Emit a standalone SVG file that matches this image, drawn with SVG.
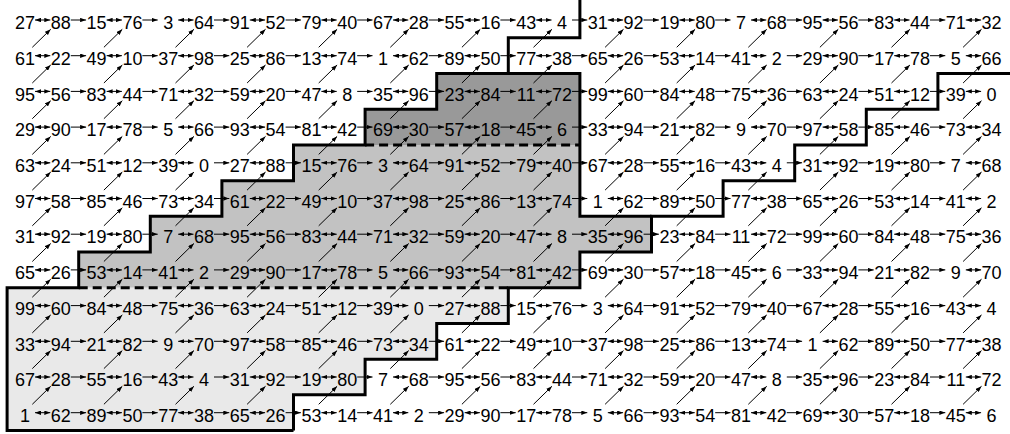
<svg xmlns="http://www.w3.org/2000/svg" width="1010" height="434" viewBox="0 0 1010 434">
<defs>
<marker id="ah" viewBox="0 0 6 4.4" refX="6" refY="2.2" markerWidth="6" markerHeight="4.4" markerUnits="userSpaceOnUse" orient="auto-start-reverse"><path d="M0 0L6 2.2L0 4.4z" fill="#000"/></marker>
</defs>
<style>
text{font-family:"Liberation Sans",Arial,Helvetica,sans-serif;font-size:18px;fill:#000;text-anchor:middle}
.b{fill:none;stroke:#000;stroke-width:1;marker-start:url(#ah);marker-end:url(#ah)}
.s,.d{fill:none;stroke:#000;stroke-width:1;marker-end:url(#ah)}
.thick{fill:none;stroke:#000;stroke-width:3}
.dash{fill:none;stroke:#000;stroke-width:3;stroke-dasharray:9 5}
</style>
<rect width="1010" height="434" fill="#fff"/>
<g id="regions">
<path id="dark" fill="#999999" d="M436.7 73.55H579.9V144.95H365.1V109.25H436.7Z"/>
<path id="medium" fill="#c2c2c2" d="M293.5 144.95H579.9V216.35H651.5V252.05H579.9V287.75H78.7V252.05H150.3V216.35H221.9V180.65H293.5Z"/>
<path id="light" fill="#e9e9e9" d="M7.1 287.75H508.3V323.45H436.7V359.15H365.1V394.85H293.5V430.55H7.1Z"/>
</g>
<g id="boundaries">
<path class="thick" d="M579.9 0V37.85H508.3V73.55H436.7V109.25H365.1V144.95H293.5V180.65H221.9V216.35H150.3V252.05H78.7V287.75H7.1V430.55H293.5"/>
<path class="thick" d="M1010 73.55H937.9V109.25H866.3V144.95H794.7V180.65H723.1V216.35H651.5V252.05H579.9V287.75H508.3V323.45H436.7V359.15H365.1V394.85H293.5V430.55"/>
<path class="thick" d="M508.3 73.55H579.9V216.35H651.5"/>
<path class="dash" d="M365.1 144.95H579.9"/>
<path class="dash" d="M78.7 287.75H508.3"/>
</g>
<g id="connectors">
<g transform="translate(0,20)">
<path class="b" d="M35 0H50.3"/><path class="s" d="M70.8 0H86.1"/><path class="b" d="M106.6 0H121.9"/><path class="s" d="M142.4 0H157.7"/><path class="b" d="M178.2 0H193.5"/><path class="s" d="M214 0H229.3"/><path class="b" d="M249.8 0H265.1"/><path class="s" d="M285.6 0H300.9"/><path class="b" d="M321.4 0H336.7"/><path class="s" d="M357.2 0H372.5"/><path class="b" d="M393 0H408.3"/><path class="s" d="M428.8 0H444.1"/><path class="b" d="M464.6 0H479.9"/><path class="s" d="M500.4 0H515.7"/><path class="b" d="M536.2 0H551.5"/><path class="s" d="M572 0H587.3"/><path class="b" d="M607.8 0H623.1"/><path class="s" d="M643.6 0H658.9"/><path class="b" d="M679.4 0H694.7"/><path class="s" d="M715.2 0H730.5"/><path class="b" d="M751 0H766.3"/><path class="s" d="M786.8 0H802.1"/><path class="b" d="M822.6 0H837.9"/><path class="s" d="M858.4 0H873.7"/><path class="b" d="M894.2 0H909.5"/><path class="s" d="M930 0H945.3"/><path class="b" d="M965.8 0H981.1"/>
<path class="d" d="M32.3 27.3l18.4-18"/><path class="d" d="M103.9 27.3l18.4-18"/><path class="d" d="M175.5 27.3l18.4-18"/><path class="d" d="M247.1 27.3l18.4-18"/><path class="d" d="M318.7 27.3l18.4-18"/><path class="d" d="M390.3 27.3l18.4-18"/><path class="d" d="M461.9 27.3l18.4-18"/><path class="d" d="M533.5 27.3l18.4-18"/><path class="d" d="M605.1 27.3l18.4-18"/><path class="d" d="M676.7 27.3l18.4-18"/><path class="d" d="M748.3 27.3l18.4-18"/><path class="d" d="M819.9 27.3l18.4-18"/><path class="d" d="M891.5 27.3l18.4-18"/><path class="d" d="M963.1 27.3l18.4-18"/>
</g>
<g transform="translate(0,55.7)">
<path class="b" d="M35 0H50.3"/><path class="s" d="M70.8 0H86.1"/><path class="b" d="M106.6 0H121.9"/><path class="s" d="M142.4 0H157.7"/><path class="b" d="M178.2 0H193.5"/><path class="s" d="M214 0H229.3"/><path class="b" d="M249.8 0H265.1"/><path class="s" d="M285.6 0H300.9"/><path class="b" d="M321.4 0H336.7"/><path class="s" d="M357.2 0H372.5"/><path class="b" d="M393 0H408.3"/><path class="s" d="M428.8 0H444.1"/><path class="b" d="M464.6 0H479.9"/><path class="s" d="M500.4 0H515.7"/><path class="b" d="M536.2 0H551.5"/><path class="s" d="M572 0H587.3"/><path class="b" d="M607.8 0H623.1"/><path class="s" d="M643.6 0H658.9"/><path class="b" d="M679.4 0H694.7"/><path class="s" d="M715.2 0H730.5"/><path class="b" d="M751 0H766.3"/><path class="s" d="M786.8 0H802.1"/><path class="b" d="M822.6 0H837.9"/><path class="s" d="M858.4 0H873.7"/><path class="b" d="M894.2 0H909.5"/><path class="s" d="M930 0H945.3"/><path class="b" d="M965.8 0H981.1"/>
<path class="d" d="M32.3 27.3l18.4-18"/><path class="d" d="M103.9 27.3l18.4-18"/><path class="d" d="M175.5 27.3l18.4-18"/><path class="d" d="M247.1 27.3l18.4-18"/><path class="d" d="M318.7 27.3l18.4-18"/><path class="d" d="M390.3 27.3l18.4-18"/><path class="d" d="M461.9 27.3l18.4-18"/><path class="d" d="M533.5 27.3l18.4-18"/><path class="d" d="M605.1 27.3l18.4-18"/><path class="d" d="M676.7 27.3l18.4-18"/><path class="d" d="M748.3 27.3l18.4-18"/><path class="d" d="M819.9 27.3l18.4-18"/><path class="d" d="M891.5 27.3l18.4-18"/><path class="d" d="M963.1 27.3l18.4-18"/>
</g>
<g transform="translate(0,91.4)">
<path class="b" d="M35 0H50.3"/><path class="s" d="M70.8 0H86.1"/><path class="b" d="M106.6 0H121.9"/><path class="s" d="M142.4 0H157.7"/><path class="b" d="M178.2 0H193.5"/><path class="s" d="M214 0H229.3"/><path class="b" d="M249.8 0H265.1"/><path class="s" d="M285.6 0H300.9"/><path class="b" d="M321.4 0H336.7"/><path class="s" d="M357.2 0H372.5"/><path class="b" d="M393 0H408.3"/><path class="s" d="M428.8 0H444.1"/><path class="b" d="M464.6 0H479.9"/><path class="s" d="M500.4 0H515.7"/><path class="b" d="M536.2 0H551.5"/><path class="s" d="M572 0H587.3"/><path class="b" d="M607.8 0H623.1"/><path class="s" d="M643.6 0H658.9"/><path class="b" d="M679.4 0H694.7"/><path class="s" d="M715.2 0H730.5"/><path class="b" d="M751 0H766.3"/><path class="s" d="M786.8 0H802.1"/><path class="b" d="M822.6 0H837.9"/><path class="s" d="M858.4 0H873.7"/><path class="b" d="M894.2 0H909.5"/><path class="s" d="M930 0H945.3"/><path class="b" d="M965.8 0H981.1"/>
<path class="d" d="M32.3 27.3l18.4-18"/><path class="d" d="M103.9 27.3l18.4-18"/><path class="d" d="M175.5 27.3l18.4-18"/><path class="d" d="M247.1 27.3l18.4-18"/><path class="d" d="M318.7 27.3l18.4-18"/><path class="d" d="M390.3 27.3l18.4-18"/><path class="d" d="M461.9 27.3l18.4-18"/><path class="d" d="M533.5 27.3l18.4-18"/><path class="d" d="M605.1 27.3l18.4-18"/><path class="d" d="M676.7 27.3l18.4-18"/><path class="d" d="M748.3 27.3l18.4-18"/><path class="d" d="M819.9 27.3l18.4-18"/><path class="d" d="M891.5 27.3l18.4-18"/><path class="d" d="M963.1 27.3l18.4-18"/>
</g>
<g transform="translate(0,127.1)">
<path class="b" d="M35 0H50.3"/><path class="s" d="M70.8 0H86.1"/><path class="b" d="M106.6 0H121.9"/><path class="s" d="M142.4 0H157.7"/><path class="b" d="M178.2 0H193.5"/><path class="s" d="M214 0H229.3"/><path class="b" d="M249.8 0H265.1"/><path class="s" d="M285.6 0H300.9"/><path class="b" d="M321.4 0H336.7"/><path class="s" d="M357.2 0H372.5"/><path class="b" d="M393 0H408.3"/><path class="s" d="M428.8 0H444.1"/><path class="b" d="M464.6 0H479.9"/><path class="s" d="M500.4 0H515.7"/><path class="b" d="M536.2 0H551.5"/><path class="s" d="M572 0H587.3"/><path class="b" d="M607.8 0H623.1"/><path class="s" d="M643.6 0H658.9"/><path class="b" d="M679.4 0H694.7"/><path class="s" d="M715.2 0H730.5"/><path class="b" d="M751 0H766.3"/><path class="s" d="M786.8 0H802.1"/><path class="b" d="M822.6 0H837.9"/><path class="s" d="M858.4 0H873.7"/><path class="b" d="M894.2 0H909.5"/><path class="s" d="M930 0H945.3"/><path class="b" d="M965.8 0H981.1"/>
<path class="d" d="M32.3 27.3l18.4-18"/><path class="d" d="M103.9 27.3l18.4-18"/><path class="d" d="M175.5 27.3l18.4-18"/><path class="d" d="M247.1 27.3l18.4-18"/><path class="d" d="M318.7 27.3l18.4-18"/><path class="d" d="M390.3 27.3l18.4-18"/><path class="d" d="M461.9 27.3l18.4-18"/><path class="d" d="M533.5 27.3l18.4-18"/><path class="d" d="M605.1 27.3l18.4-18"/><path class="d" d="M676.7 27.3l18.4-18"/><path class="d" d="M748.3 27.3l18.4-18"/><path class="d" d="M819.9 27.3l18.4-18"/><path class="d" d="M891.5 27.3l18.4-18"/><path class="d" d="M963.1 27.3l18.4-18"/>
</g>
<g transform="translate(0,162.8)">
<path class="b" d="M35 0H50.3"/><path class="s" d="M70.8 0H86.1"/><path class="b" d="M106.6 0H121.9"/><path class="s" d="M142.4 0H157.7"/><path class="b" d="M178.2 0H193.5"/><path class="s" d="M214 0H229.3"/><path class="b" d="M249.8 0H265.1"/><path class="s" d="M285.6 0H300.9"/><path class="b" d="M321.4 0H336.7"/><path class="s" d="M357.2 0H372.5"/><path class="b" d="M393 0H408.3"/><path class="s" d="M428.8 0H444.1"/><path class="b" d="M464.6 0H479.9"/><path class="s" d="M500.4 0H515.7"/><path class="b" d="M536.2 0H551.5"/><path class="s" d="M572 0H587.3"/><path class="b" d="M607.8 0H623.1"/><path class="s" d="M643.6 0H658.9"/><path class="b" d="M679.4 0H694.7"/><path class="s" d="M715.2 0H730.5"/><path class="b" d="M751 0H766.3"/><path class="s" d="M786.8 0H802.1"/><path class="b" d="M822.6 0H837.9"/><path class="s" d="M858.4 0H873.7"/><path class="b" d="M894.2 0H909.5"/><path class="s" d="M930 0H945.3"/><path class="b" d="M965.8 0H981.1"/>
<path class="d" d="M32.3 27.3l18.4-18"/><path class="d" d="M103.9 27.3l18.4-18"/><path class="d" d="M175.5 27.3l18.4-18"/><path class="d" d="M247.1 27.3l18.4-18"/><path class="d" d="M318.7 27.3l18.4-18"/><path class="d" d="M390.3 27.3l18.4-18"/><path class="d" d="M461.9 27.3l18.4-18"/><path class="d" d="M533.5 27.3l18.4-18"/><path class="d" d="M605.1 27.3l18.4-18"/><path class="d" d="M676.7 27.3l18.4-18"/><path class="d" d="M748.3 27.3l18.4-18"/><path class="d" d="M819.9 27.3l18.4-18"/><path class="d" d="M891.5 27.3l18.4-18"/><path class="d" d="M963.1 27.3l18.4-18"/>
</g>
<g transform="translate(0,198.5)">
<path class="b" d="M35 0H50.3"/><path class="s" d="M70.8 0H86.1"/><path class="b" d="M106.6 0H121.9"/><path class="s" d="M142.4 0H157.7"/><path class="b" d="M178.2 0H193.5"/><path class="s" d="M214 0H229.3"/><path class="b" d="M249.8 0H265.1"/><path class="s" d="M285.6 0H300.9"/><path class="b" d="M321.4 0H336.7"/><path class="s" d="M357.2 0H372.5"/><path class="b" d="M393 0H408.3"/><path class="s" d="M428.8 0H444.1"/><path class="b" d="M464.6 0H479.9"/><path class="s" d="M500.4 0H515.7"/><path class="b" d="M536.2 0H551.5"/><path class="s" d="M572 0H587.3"/><path class="b" d="M607.8 0H623.1"/><path class="s" d="M643.6 0H658.9"/><path class="b" d="M679.4 0H694.7"/><path class="s" d="M715.2 0H730.5"/><path class="b" d="M751 0H766.3"/><path class="s" d="M786.8 0H802.1"/><path class="b" d="M822.6 0H837.9"/><path class="s" d="M858.4 0H873.7"/><path class="b" d="M894.2 0H909.5"/><path class="s" d="M930 0H945.3"/><path class="b" d="M965.8 0H981.1"/>
<path class="d" d="M32.3 27.3l18.4-18"/><path class="d" d="M103.9 27.3l18.4-18"/><path class="d" d="M175.5 27.3l18.4-18"/><path class="d" d="M247.1 27.3l18.4-18"/><path class="d" d="M318.7 27.3l18.4-18"/><path class="d" d="M390.3 27.3l18.4-18"/><path class="d" d="M461.9 27.3l18.4-18"/><path class="d" d="M533.5 27.3l18.4-18"/><path class="d" d="M605.1 27.3l18.4-18"/><path class="d" d="M676.7 27.3l18.4-18"/><path class="d" d="M748.3 27.3l18.4-18"/><path class="d" d="M819.9 27.3l18.4-18"/><path class="d" d="M891.5 27.3l18.4-18"/><path class="d" d="M963.1 27.3l18.4-18"/>
</g>
<g transform="translate(0,234.2)">
<path class="b" d="M35 0H50.3"/><path class="s" d="M70.8 0H86.1"/><path class="b" d="M106.6 0H121.9"/><path class="s" d="M142.4 0H157.7"/><path class="b" d="M178.2 0H193.5"/><path class="s" d="M214 0H229.3"/><path class="b" d="M249.8 0H265.1"/><path class="s" d="M285.6 0H300.9"/><path class="b" d="M321.4 0H336.7"/><path class="s" d="M357.2 0H372.5"/><path class="b" d="M393 0H408.3"/><path class="s" d="M428.8 0H444.1"/><path class="b" d="M464.6 0H479.9"/><path class="s" d="M500.4 0H515.7"/><path class="b" d="M536.2 0H551.5"/><path class="s" d="M572 0H587.3"/><path class="b" d="M607.8 0H623.1"/><path class="s" d="M643.6 0H658.9"/><path class="b" d="M679.4 0H694.7"/><path class="s" d="M715.2 0H730.5"/><path class="b" d="M751 0H766.3"/><path class="s" d="M786.8 0H802.1"/><path class="b" d="M822.6 0H837.9"/><path class="s" d="M858.4 0H873.7"/><path class="b" d="M894.2 0H909.5"/><path class="s" d="M930 0H945.3"/><path class="b" d="M965.8 0H981.1"/>
<path class="d" d="M32.3 27.3l18.4-18"/><path class="d" d="M103.9 27.3l18.4-18"/><path class="d" d="M175.5 27.3l18.4-18"/><path class="d" d="M247.1 27.3l18.4-18"/><path class="d" d="M318.7 27.3l18.4-18"/><path class="d" d="M390.3 27.3l18.4-18"/><path class="d" d="M461.9 27.3l18.4-18"/><path class="d" d="M533.5 27.3l18.4-18"/><path class="d" d="M605.1 27.3l18.4-18"/><path class="d" d="M676.7 27.3l18.4-18"/><path class="d" d="M748.3 27.3l18.4-18"/><path class="d" d="M819.9 27.3l18.4-18"/><path class="d" d="M891.5 27.3l18.4-18"/><path class="d" d="M963.1 27.3l18.4-18"/>
</g>
<g transform="translate(0,269.9)">
<path class="b" d="M35 0H50.3"/><path class="s" d="M70.8 0H86.1"/><path class="b" d="M106.6 0H121.9"/><path class="s" d="M142.4 0H157.7"/><path class="b" d="M178.2 0H193.5"/><path class="s" d="M214 0H229.3"/><path class="b" d="M249.8 0H265.1"/><path class="s" d="M285.6 0H300.9"/><path class="b" d="M321.4 0H336.7"/><path class="s" d="M357.2 0H372.5"/><path class="b" d="M393 0H408.3"/><path class="s" d="M428.8 0H444.1"/><path class="b" d="M464.6 0H479.9"/><path class="s" d="M500.4 0H515.7"/><path class="b" d="M536.2 0H551.5"/><path class="s" d="M572 0H587.3"/><path class="b" d="M607.8 0H623.1"/><path class="s" d="M643.6 0H658.9"/><path class="b" d="M679.4 0H694.7"/><path class="s" d="M715.2 0H730.5"/><path class="b" d="M751 0H766.3"/><path class="s" d="M786.8 0H802.1"/><path class="b" d="M822.6 0H837.9"/><path class="s" d="M858.4 0H873.7"/><path class="b" d="M894.2 0H909.5"/><path class="s" d="M930 0H945.3"/><path class="b" d="M965.8 0H981.1"/>
<path class="d" d="M32.3 27.3l18.4-18"/><path class="d" d="M103.9 27.3l18.4-18"/><path class="d" d="M175.5 27.3l18.4-18"/><path class="d" d="M247.1 27.3l18.4-18"/><path class="d" d="M318.7 27.3l18.4-18"/><path class="d" d="M390.3 27.3l18.4-18"/><path class="d" d="M461.9 27.3l18.4-18"/><path class="d" d="M533.5 27.3l18.4-18"/><path class="d" d="M605.1 27.3l18.4-18"/><path class="d" d="M676.7 27.3l18.4-18"/><path class="d" d="M748.3 27.3l18.4-18"/><path class="d" d="M819.9 27.3l18.4-18"/><path class="d" d="M891.5 27.3l18.4-18"/><path class="d" d="M963.1 27.3l18.4-18"/>
</g>
<g transform="translate(0,305.6)">
<path class="b" d="M35 0H50.3"/><path class="s" d="M70.8 0H86.1"/><path class="b" d="M106.6 0H121.9"/><path class="s" d="M142.4 0H157.7"/><path class="b" d="M178.2 0H193.5"/><path class="s" d="M214 0H229.3"/><path class="b" d="M249.8 0H265.1"/><path class="s" d="M285.6 0H300.9"/><path class="b" d="M321.4 0H336.7"/><path class="s" d="M357.2 0H372.5"/><path class="b" d="M393 0H408.3"/><path class="s" d="M428.8 0H444.1"/><path class="b" d="M464.6 0H479.9"/><path class="s" d="M500.4 0H515.7"/><path class="b" d="M536.2 0H551.5"/><path class="s" d="M572 0H587.3"/><path class="b" d="M607.8 0H623.1"/><path class="s" d="M643.6 0H658.9"/><path class="b" d="M679.4 0H694.7"/><path class="s" d="M715.2 0H730.5"/><path class="b" d="M751 0H766.3"/><path class="s" d="M786.8 0H802.1"/><path class="b" d="M822.6 0H837.9"/><path class="s" d="M858.4 0H873.7"/><path class="b" d="M894.2 0H909.5"/><path class="s" d="M930 0H945.3"/><path class="b" d="M965.8 0H981.1"/>
<path class="d" d="M32.3 27.3l18.4-18"/><path class="d" d="M103.9 27.3l18.4-18"/><path class="d" d="M175.5 27.3l18.4-18"/><path class="d" d="M247.1 27.3l18.4-18"/><path class="d" d="M318.7 27.3l18.4-18"/><path class="d" d="M390.3 27.3l18.4-18"/><path class="d" d="M461.9 27.3l18.4-18"/><path class="d" d="M533.5 27.3l18.4-18"/><path class="d" d="M605.1 27.3l18.4-18"/><path class="d" d="M676.7 27.3l18.4-18"/><path class="d" d="M748.3 27.3l18.4-18"/><path class="d" d="M819.9 27.3l18.4-18"/><path class="d" d="M891.5 27.3l18.4-18"/><path class="d" d="M963.1 27.3l18.4-18"/>
</g>
<g transform="translate(0,341.3)">
<path class="b" d="M35 0H50.3"/><path class="s" d="M70.8 0H86.1"/><path class="b" d="M106.6 0H121.9"/><path class="s" d="M142.4 0H157.7"/><path class="b" d="M178.2 0H193.5"/><path class="s" d="M214 0H229.3"/><path class="b" d="M249.8 0H265.1"/><path class="s" d="M285.6 0H300.9"/><path class="b" d="M321.4 0H336.7"/><path class="s" d="M357.2 0H372.5"/><path class="b" d="M393 0H408.3"/><path class="s" d="M428.8 0H444.1"/><path class="b" d="M464.6 0H479.9"/><path class="s" d="M500.4 0H515.7"/><path class="b" d="M536.2 0H551.5"/><path class="s" d="M572 0H587.3"/><path class="b" d="M607.8 0H623.1"/><path class="s" d="M643.6 0H658.9"/><path class="b" d="M679.4 0H694.7"/><path class="s" d="M715.2 0H730.5"/><path class="b" d="M751 0H766.3"/><path class="s" d="M786.8 0H802.1"/><path class="b" d="M822.6 0H837.9"/><path class="s" d="M858.4 0H873.7"/><path class="b" d="M894.2 0H909.5"/><path class="s" d="M930 0H945.3"/><path class="b" d="M965.8 0H981.1"/>
<path class="d" d="M32.3 27.3l18.4-18"/><path class="d" d="M103.9 27.3l18.4-18"/><path class="d" d="M175.5 27.3l18.4-18"/><path class="d" d="M247.1 27.3l18.4-18"/><path class="d" d="M318.7 27.3l18.4-18"/><path class="d" d="M390.3 27.3l18.4-18"/><path class="d" d="M461.9 27.3l18.4-18"/><path class="d" d="M533.5 27.3l18.4-18"/><path class="d" d="M605.1 27.3l18.4-18"/><path class="d" d="M676.7 27.3l18.4-18"/><path class="d" d="M748.3 27.3l18.4-18"/><path class="d" d="M819.9 27.3l18.4-18"/><path class="d" d="M891.5 27.3l18.4-18"/><path class="d" d="M963.1 27.3l18.4-18"/>
</g>
<g transform="translate(0,377)">
<path class="b" d="M35 0H50.3"/><path class="s" d="M70.8 0H86.1"/><path class="b" d="M106.6 0H121.9"/><path class="s" d="M142.4 0H157.7"/><path class="b" d="M178.2 0H193.5"/><path class="s" d="M214 0H229.3"/><path class="b" d="M249.8 0H265.1"/><path class="s" d="M285.6 0H300.9"/><path class="b" d="M321.4 0H336.7"/><path class="s" d="M357.2 0H372.5"/><path class="b" d="M393 0H408.3"/><path class="s" d="M428.8 0H444.1"/><path class="b" d="M464.6 0H479.9"/><path class="s" d="M500.4 0H515.7"/><path class="b" d="M536.2 0H551.5"/><path class="s" d="M572 0H587.3"/><path class="b" d="M607.8 0H623.1"/><path class="s" d="M643.6 0H658.9"/><path class="b" d="M679.4 0H694.7"/><path class="s" d="M715.2 0H730.5"/><path class="b" d="M751 0H766.3"/><path class="s" d="M786.8 0H802.1"/><path class="b" d="M822.6 0H837.9"/><path class="s" d="M858.4 0H873.7"/><path class="b" d="M894.2 0H909.5"/><path class="s" d="M930 0H945.3"/><path class="b" d="M965.8 0H981.1"/>
<path class="d" d="M32.3 27.3l18.4-18"/><path class="d" d="M103.9 27.3l18.4-18"/><path class="d" d="M175.5 27.3l18.4-18"/><path class="d" d="M247.1 27.3l18.4-18"/><path class="d" d="M318.7 27.3l18.4-18"/><path class="d" d="M390.3 27.3l18.4-18"/><path class="d" d="M461.9 27.3l18.4-18"/><path class="d" d="M533.5 27.3l18.4-18"/><path class="d" d="M605.1 27.3l18.4-18"/><path class="d" d="M676.7 27.3l18.4-18"/><path class="d" d="M748.3 27.3l18.4-18"/><path class="d" d="M819.9 27.3l18.4-18"/><path class="d" d="M891.5 27.3l18.4-18"/><path class="d" d="M963.1 27.3l18.4-18"/>
</g>
<g transform="translate(0,412.7)">
<path class="b" d="M35 0H50.3"/><path class="s" d="M70.8 0H86.1"/><path class="b" d="M106.6 0H121.9"/><path class="s" d="M142.4 0H157.7"/><path class="b" d="M178.2 0H193.5"/><path class="s" d="M214 0H229.3"/><path class="b" d="M249.8 0H265.1"/><path class="s" d="M285.6 0H300.9"/><path class="b" d="M321.4 0H336.7"/><path class="s" d="M357.2 0H372.5"/><path class="b" d="M393 0H408.3"/><path class="s" d="M428.8 0H444.1"/><path class="b" d="M464.6 0H479.9"/><path class="s" d="M500.4 0H515.7"/><path class="b" d="M536.2 0H551.5"/><path class="s" d="M572 0H587.3"/><path class="b" d="M607.8 0H623.1"/><path class="s" d="M643.6 0H658.9"/><path class="b" d="M679.4 0H694.7"/><path class="s" d="M715.2 0H730.5"/><path class="b" d="M751 0H766.3"/><path class="s" d="M786.8 0H802.1"/><path class="b" d="M822.6 0H837.9"/><path class="s" d="M858.4 0H873.7"/><path class="b" d="M894.2 0H909.5"/><path class="s" d="M930 0H945.3"/><path class="b" d="M965.8 0H981.1"/>
</g>
</g>
<g id="nodes">
<g id="row0" transform="translate(0,29.2)">
<g id="n0-0"><text x="25">27</text></g><g id="n0-1"><text x="60.8">88</text></g><g id="n0-2"><text x="96.6">15</text></g><g id="n0-3"><text x="132.4">76</text></g><g id="n0-4"><text x="168.2">3</text></g><g id="n0-5"><text x="204">64</text></g><g id="n0-6"><text x="239.8">91</text></g><g id="n0-7"><text x="275.6">52</text></g><g id="n0-8"><text x="311.4">79</text></g><g id="n0-9"><text x="347.2">40</text></g><g id="n0-10"><text x="383">67</text></g><g id="n0-11"><text x="418.8">28</text></g><g id="n0-12"><text x="454.6">55</text></g><g id="n0-13"><text x="490.4">16</text></g><g id="n0-14"><text x="526.2">43</text></g><g id="n0-15"><text x="562">4</text></g><g id="n0-16"><text x="597.8">31</text></g><g id="n0-17"><text x="633.6">92</text></g><g id="n0-18"><text x="669.4">19</text></g><g id="n0-19"><text x="705.2">80</text></g><g id="n0-20"><text x="741">7</text></g><g id="n0-21"><text x="776.8">68</text></g><g id="n0-22"><text x="812.6">95</text></g><g id="n0-23"><text x="848.4">56</text></g><g id="n0-24"><text x="884.2">83</text></g><g id="n0-25"><text x="920">44</text></g><g id="n0-26"><text x="955.8">71</text></g><g id="n0-27"><text x="991.6">32</text></g>
</g>
<g id="row1" transform="translate(0,64.9)">
<g id="n1-0"><text x="25">61</text></g><g id="n1-1"><text x="60.8">22</text></g><g id="n1-2"><text x="96.6">49</text></g><g id="n1-3"><text x="132.4">10</text></g><g id="n1-4"><text x="168.2">37</text></g><g id="n1-5"><text x="204">98</text></g><g id="n1-6"><text x="239.8">25</text></g><g id="n1-7"><text x="275.6">86</text></g><g id="n1-8"><text x="311.4">13</text></g><g id="n1-9"><text x="347.2">74</text></g><g id="n1-10"><text x="383">1</text></g><g id="n1-11"><text x="418.8">62</text></g><g id="n1-12"><text x="454.6">89</text></g><g id="n1-13"><text x="490.4">50</text></g><g id="n1-14"><text x="526.2">77</text></g><g id="n1-15"><text x="562">38</text></g><g id="n1-16"><text x="597.8">65</text></g><g id="n1-17"><text x="633.6">26</text></g><g id="n1-18"><text x="669.4">53</text></g><g id="n1-19"><text x="705.2">14</text></g><g id="n1-20"><text x="741">41</text></g><g id="n1-21"><text x="776.8">2</text></g><g id="n1-22"><text x="812.6">29</text></g><g id="n1-23"><text x="848.4">90</text></g><g id="n1-24"><text x="884.2">17</text></g><g id="n1-25"><text x="920">78</text></g><g id="n1-26"><text x="955.8">5</text></g><g id="n1-27"><text x="991.6">66</text></g>
</g>
<g id="row2" transform="translate(0,100.6)">
<g id="n2-0"><text x="25">95</text></g><g id="n2-1"><text x="60.8">56</text></g><g id="n2-2"><text x="96.6">83</text></g><g id="n2-3"><text x="132.4">44</text></g><g id="n2-4"><text x="168.2">71</text></g><g id="n2-5"><text x="204">32</text></g><g id="n2-6"><text x="239.8">59</text></g><g id="n2-7"><text x="275.6">20</text></g><g id="n2-8"><text x="311.4">47</text></g><g id="n2-9"><text x="347.2">8</text></g><g id="n2-10"><text x="383">35</text></g><g id="n2-11"><text x="418.8">96</text></g><g id="n2-12"><text x="454.6">23</text></g><g id="n2-13"><text x="490.4">84</text></g><g id="n2-14"><text x="526.2">11</text></g><g id="n2-15"><text x="562">72</text></g><g id="n2-16"><text x="597.8">99</text></g><g id="n2-17"><text x="633.6">60</text></g><g id="n2-18"><text x="669.4">84</text></g><g id="n2-19"><text x="705.2">48</text></g><g id="n2-20"><text x="741">75</text></g><g id="n2-21"><text x="776.8">36</text></g><g id="n2-22"><text x="812.6">63</text></g><g id="n2-23"><text x="848.4">24</text></g><g id="n2-24"><text x="884.2">51</text></g><g id="n2-25"><text x="920">12</text></g><g id="n2-26"><text x="955.8">39</text></g><g id="n2-27"><text x="991.6">0</text></g>
</g>
<g id="row3" transform="translate(0,136.3)">
<g id="n3-0"><text x="25">29</text></g><g id="n3-1"><text x="60.8">90</text></g><g id="n3-2"><text x="96.6">17</text></g><g id="n3-3"><text x="132.4">78</text></g><g id="n3-4"><text x="168.2">5</text></g><g id="n3-5"><text x="204">66</text></g><g id="n3-6"><text x="239.8">93</text></g><g id="n3-7"><text x="275.6">54</text></g><g id="n3-8"><text x="311.4">81</text></g><g id="n3-9"><text x="347.2">42</text></g><g id="n3-10"><text x="383">69</text></g><g id="n3-11"><text x="418.8">30</text></g><g id="n3-12"><text x="454.6">57</text></g><g id="n3-13"><text x="490.4">18</text></g><g id="n3-14"><text x="526.2">45</text></g><g id="n3-15"><text x="562">6</text></g><g id="n3-16"><text x="597.8">33</text></g><g id="n3-17"><text x="633.6">94</text></g><g id="n3-18"><text x="669.4">21</text></g><g id="n3-19"><text x="705.2">82</text></g><g id="n3-20"><text x="741">9</text></g><g id="n3-21"><text x="776.8">70</text></g><g id="n3-22"><text x="812.6">97</text></g><g id="n3-23"><text x="848.4">58</text></g><g id="n3-24"><text x="884.2">85</text></g><g id="n3-25"><text x="920">46</text></g><g id="n3-26"><text x="955.8">73</text></g><g id="n3-27"><text x="991.6">34</text></g>
</g>
<g id="row4" transform="translate(0,172)">
<g id="n4-0"><text x="25">63</text></g><g id="n4-1"><text x="60.8">24</text></g><g id="n4-2"><text x="96.6">51</text></g><g id="n4-3"><text x="132.4">12</text></g><g id="n4-4"><text x="168.2">39</text></g><g id="n4-5"><text x="204">0</text></g><g id="n4-6"><text x="239.8">27</text></g><g id="n4-7"><text x="275.6">88</text></g><g id="n4-8"><text x="311.4">15</text></g><g id="n4-9"><text x="347.2">76</text></g><g id="n4-10"><text x="383">3</text></g><g id="n4-11"><text x="418.8">64</text></g><g id="n4-12"><text x="454.6">91</text></g><g id="n4-13"><text x="490.4">52</text></g><g id="n4-14"><text x="526.2">79</text></g><g id="n4-15"><text x="562">40</text></g><g id="n4-16"><text x="597.8">67</text></g><g id="n4-17"><text x="633.6">28</text></g><g id="n4-18"><text x="669.4">55</text></g><g id="n4-19"><text x="705.2">16</text></g><g id="n4-20"><text x="741">43</text></g><g id="n4-21"><text x="776.8">4</text></g><g id="n4-22"><text x="812.6">31</text></g><g id="n4-23"><text x="848.4">92</text></g><g id="n4-24"><text x="884.2">19</text></g><g id="n4-25"><text x="920">80</text></g><g id="n4-26"><text x="955.8">7</text></g><g id="n4-27"><text x="991.6">68</text></g>
</g>
<g id="row5" transform="translate(0,207.7)">
<g id="n5-0"><text x="25">97</text></g><g id="n5-1"><text x="60.8">58</text></g><g id="n5-2"><text x="96.6">85</text></g><g id="n5-3"><text x="132.4">46</text></g><g id="n5-4"><text x="168.2">73</text></g><g id="n5-5"><text x="204">34</text></g><g id="n5-6"><text x="239.8">61</text></g><g id="n5-7"><text x="275.6">22</text></g><g id="n5-8"><text x="311.4">49</text></g><g id="n5-9"><text x="347.2">10</text></g><g id="n5-10"><text x="383">37</text></g><g id="n5-11"><text x="418.8">98</text></g><g id="n5-12"><text x="454.6">25</text></g><g id="n5-13"><text x="490.4">86</text></g><g id="n5-14"><text x="526.2">13</text></g><g id="n5-15"><text x="562">74</text></g><g id="n5-16"><text x="597.8">1</text></g><g id="n5-17"><text x="633.6">62</text></g><g id="n5-18"><text x="669.4">89</text></g><g id="n5-19"><text x="705.2">50</text></g><g id="n5-20"><text x="741">77</text></g><g id="n5-21"><text x="776.8">38</text></g><g id="n5-22"><text x="812.6">65</text></g><g id="n5-23"><text x="848.4">26</text></g><g id="n5-24"><text x="884.2">53</text></g><g id="n5-25"><text x="920">14</text></g><g id="n5-26"><text x="955.8">41</text></g><g id="n5-27"><text x="991.6">2</text></g>
</g>
<g id="row6" transform="translate(0,243.4)">
<g id="n6-0"><text x="25">31</text></g><g id="n6-1"><text x="60.8">92</text></g><g id="n6-2"><text x="96.6">19</text></g><g id="n6-3"><text x="132.4">80</text></g><g id="n6-4"><text x="168.2">7</text></g><g id="n6-5"><text x="204">68</text></g><g id="n6-6"><text x="239.8">95</text></g><g id="n6-7"><text x="275.6">56</text></g><g id="n6-8"><text x="311.4">83</text></g><g id="n6-9"><text x="347.2">44</text></g><g id="n6-10"><text x="383">71</text></g><g id="n6-11"><text x="418.8">32</text></g><g id="n6-12"><text x="454.6">59</text></g><g id="n6-13"><text x="490.4">20</text></g><g id="n6-14"><text x="526.2">47</text></g><g id="n6-15"><text x="562">8</text></g><g id="n6-16"><text x="597.8">35</text></g><g id="n6-17"><text x="633.6">96</text></g><g id="n6-18"><text x="669.4">23</text></g><g id="n6-19"><text x="705.2">84</text></g><g id="n6-20"><text x="741">11</text></g><g id="n6-21"><text x="776.8">72</text></g><g id="n6-22"><text x="812.6">99</text></g><g id="n6-23"><text x="848.4">60</text></g><g id="n6-24"><text x="884.2">84</text></g><g id="n6-25"><text x="920">48</text></g><g id="n6-26"><text x="955.8">75</text></g><g id="n6-27"><text x="991.6">36</text></g>
</g>
<g id="row7" transform="translate(0,279.1)">
<g id="n7-0"><text x="25">65</text></g><g id="n7-1"><text x="60.8">26</text></g><g id="n7-2"><text x="96.6">53</text></g><g id="n7-3"><text x="132.4">14</text></g><g id="n7-4"><text x="168.2">41</text></g><g id="n7-5"><text x="204">2</text></g><g id="n7-6"><text x="239.8">29</text></g><g id="n7-7"><text x="275.6">90</text></g><g id="n7-8"><text x="311.4">17</text></g><g id="n7-9"><text x="347.2">78</text></g><g id="n7-10"><text x="383">5</text></g><g id="n7-11"><text x="418.8">66</text></g><g id="n7-12"><text x="454.6">93</text></g><g id="n7-13"><text x="490.4">54</text></g><g id="n7-14"><text x="526.2">81</text></g><g id="n7-15"><text x="562">42</text></g><g id="n7-16"><text x="597.8">69</text></g><g id="n7-17"><text x="633.6">30</text></g><g id="n7-18"><text x="669.4">57</text></g><g id="n7-19"><text x="705.2">18</text></g><g id="n7-20"><text x="741">45</text></g><g id="n7-21"><text x="776.8">6</text></g><g id="n7-22"><text x="812.6">33</text></g><g id="n7-23"><text x="848.4">94</text></g><g id="n7-24"><text x="884.2">21</text></g><g id="n7-25"><text x="920">82</text></g><g id="n7-26"><text x="955.8">9</text></g><g id="n7-27"><text x="991.6">70</text></g>
</g>
<g id="row8" transform="translate(0,314.8)">
<g id="n8-0"><text x="25">99</text></g><g id="n8-1"><text x="60.8">60</text></g><g id="n8-2"><text x="96.6">84</text></g><g id="n8-3"><text x="132.4">48</text></g><g id="n8-4"><text x="168.2">75</text></g><g id="n8-5"><text x="204">36</text></g><g id="n8-6"><text x="239.8">63</text></g><g id="n8-7"><text x="275.6">24</text></g><g id="n8-8"><text x="311.4">51</text></g><g id="n8-9"><text x="347.2">12</text></g><g id="n8-10"><text x="383">39</text></g><g id="n8-11"><text x="418.8">0</text></g><g id="n8-12"><text x="454.6">27</text></g><g id="n8-13"><text x="490.4">88</text></g><g id="n8-14"><text x="526.2">15</text></g><g id="n8-15"><text x="562">76</text></g><g id="n8-16"><text x="597.8">3</text></g><g id="n8-17"><text x="633.6">64</text></g><g id="n8-18"><text x="669.4">91</text></g><g id="n8-19"><text x="705.2">52</text></g><g id="n8-20"><text x="741">79</text></g><g id="n8-21"><text x="776.8">40</text></g><g id="n8-22"><text x="812.6">67</text></g><g id="n8-23"><text x="848.4">28</text></g><g id="n8-24"><text x="884.2">55</text></g><g id="n8-25"><text x="920">16</text></g><g id="n8-26"><text x="955.8">43</text></g><g id="n8-27"><text x="991.6">4</text></g>
</g>
<g id="row9" transform="translate(0,350.5)">
<g id="n9-0"><text x="25">33</text></g><g id="n9-1"><text x="60.8">94</text></g><g id="n9-2"><text x="96.6">21</text></g><g id="n9-3"><text x="132.4">82</text></g><g id="n9-4"><text x="168.2">9</text></g><g id="n9-5"><text x="204">70</text></g><g id="n9-6"><text x="239.8">97</text></g><g id="n9-7"><text x="275.6">58</text></g><g id="n9-8"><text x="311.4">85</text></g><g id="n9-9"><text x="347.2">46</text></g><g id="n9-10"><text x="383">73</text></g><g id="n9-11"><text x="418.8">34</text></g><g id="n9-12"><text x="454.6">61</text></g><g id="n9-13"><text x="490.4">22</text></g><g id="n9-14"><text x="526.2">49</text></g><g id="n9-15"><text x="562">10</text></g><g id="n9-16"><text x="597.8">37</text></g><g id="n9-17"><text x="633.6">98</text></g><g id="n9-18"><text x="669.4">25</text></g><g id="n9-19"><text x="705.2">86</text></g><g id="n9-20"><text x="741">13</text></g><g id="n9-21"><text x="776.8">74</text></g><g id="n9-22"><text x="812.6">1</text></g><g id="n9-23"><text x="848.4">62</text></g><g id="n9-24"><text x="884.2">89</text></g><g id="n9-25"><text x="920">50</text></g><g id="n9-26"><text x="955.8">77</text></g><g id="n9-27"><text x="991.6">38</text></g>
</g>
<g id="row10" transform="translate(0,386.2)">
<g id="n10-0"><text x="25">67</text></g><g id="n10-1"><text x="60.8">28</text></g><g id="n10-2"><text x="96.6">55</text></g><g id="n10-3"><text x="132.4">16</text></g><g id="n10-4"><text x="168.2">43</text></g><g id="n10-5"><text x="204">4</text></g><g id="n10-6"><text x="239.8">31</text></g><g id="n10-7"><text x="275.6">92</text></g><g id="n10-8"><text x="311.4">19</text></g><g id="n10-9"><text x="347.2">80</text></g><g id="n10-10"><text x="383">7</text></g><g id="n10-11"><text x="418.8">68</text></g><g id="n10-12"><text x="454.6">95</text></g><g id="n10-13"><text x="490.4">56</text></g><g id="n10-14"><text x="526.2">83</text></g><g id="n10-15"><text x="562">44</text></g><g id="n10-16"><text x="597.8">71</text></g><g id="n10-17"><text x="633.6">32</text></g><g id="n10-18"><text x="669.4">59</text></g><g id="n10-19"><text x="705.2">20</text></g><g id="n10-20"><text x="741">47</text></g><g id="n10-21"><text x="776.8">8</text></g><g id="n10-22"><text x="812.6">35</text></g><g id="n10-23"><text x="848.4">96</text></g><g id="n10-24"><text x="884.2">23</text></g><g id="n10-25"><text x="920">84</text></g><g id="n10-26"><text x="955.8">11</text></g><g id="n10-27"><text x="991.6">72</text></g>
</g>
<g id="row11" transform="translate(0,421.9)">
<g id="n11-0"><text x="25">1</text></g><g id="n11-1"><text x="60.8">62</text></g><g id="n11-2"><text x="96.6">89</text></g><g id="n11-3"><text x="132.4">50</text></g><g id="n11-4"><text x="168.2">77</text></g><g id="n11-5"><text x="204">38</text></g><g id="n11-6"><text x="239.8">65</text></g><g id="n11-7"><text x="275.6">26</text></g><g id="n11-8"><text x="311.4">53</text></g><g id="n11-9"><text x="347.2">14</text></g><g id="n11-10"><text x="383">41</text></g><g id="n11-11"><text x="418.8">2</text></g><g id="n11-12"><text x="454.6">29</text></g><g id="n11-13"><text x="490.4">90</text></g><g id="n11-14"><text x="526.2">17</text></g><g id="n11-15"><text x="562">78</text></g><g id="n11-16"><text x="597.8">5</text></g><g id="n11-17"><text x="633.6">66</text></g><g id="n11-18"><text x="669.4">93</text></g><g id="n11-19"><text x="705.2">54</text></g><g id="n11-20"><text x="741">81</text></g><g id="n11-21"><text x="776.8">42</text></g><g id="n11-22"><text x="812.6">69</text></g><g id="n11-23"><text x="848.4">30</text></g><g id="n11-24"><text x="884.2">57</text></g><g id="n11-25"><text x="920">18</text></g><g id="n11-26"><text x="955.8">45</text></g><g id="n11-27"><text x="991.6">6</text></g>
</g>
</g>
</svg>
